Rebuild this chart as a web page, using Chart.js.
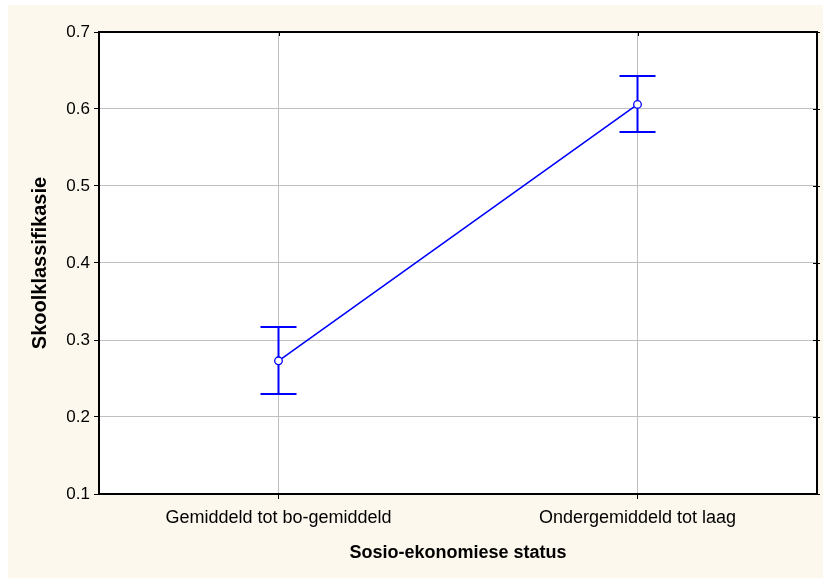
<!DOCTYPE html>
<html>
<head>
<meta charset="utf-8">
<script src="https://cdn.jsdelivr.net/npm/chart.js@4.4.1/dist/chart.umd.min.js"></script>
<style>
  html, body { margin: 0; padding: 0; background: #ffffff; }
  #frame {
    position: absolute; left: 8px; top: 5px;
    width: 815px; height: 573px;
    background: #fdf8ed;
  }
  #chart { display: block; }
</style>
</head>
<body>
<div id="frame">
  <canvas id="chart" width="815" height="573"></canvas>
</div>
<script>
// data
const categories = ['Gemiddeld tot bo-gemiddeld', 'Ondergemiddeld tot laag'];
const means = [0.273, 0.606];
const errLow = [0.230, 0.570];
const errHigh = [0.317, 0.643];
const yTicks = [0.1, 0.2, 0.3, 0.4, 0.5, 0.6, 0.7];

const BLUE = '#0000ff';

const plotBackground = {
  id: 'plotBackground',
  beforeDraw(chart) {
    const { ctx, chartArea: a } = chart;
    ctx.save();
    ctx.fillStyle = '#ffffff';
    ctx.fillRect(a.left, a.top, a.right - a.left, a.bottom - a.top);
    ctx.restore();
  }
};

const errorBars = {
  id: 'errorBars',
  beforeDatasetsDraw(chart) {
    const { ctx } = chart;
    const y = chart.scales.y;
    const meta = chart.getDatasetMeta(0);
    ctx.save();
    ctx.strokeStyle = BLUE;
    ctx.lineWidth = 2;
    meta.data.forEach((pt, i) => {
      const x = pt.x;
      const top = y.getPixelForValue(errHigh[i]);
      const bot = y.getPixelForValue(errLow[i]);
      ctx.beginPath();
      ctx.moveTo(x, top); ctx.lineTo(x, bot);
      ctx.moveTo(x - 18, top); ctx.lineTo(x + 18, top);
      ctx.moveTo(x - 18, bot); ctx.lineTo(x + 18, bot);
      ctx.stroke();
    });
    ctx.restore();
  }
};

const frameBorder = {
  id: 'frameBorder',
  afterDraw(chart) {
    const { ctx, chartArea: a } = chart;
    ctx.save();
    ctx.strokeStyle = '#000';
    ctx.lineWidth = 2;
    ctx.strokeRect(a.left, a.top, a.right - a.left, a.bottom - a.top);
    // mirrored small ticks on top and right
    ctx.lineWidth = 1;
    ctx.beginPath();
    chart.scales.x.ticks.forEach((t, i) => {
      const px = Math.round(chart.scales.x.getPixelForTick(i)) + 0.5;
      ctx.moveTo(px, a.top); ctx.lineTo(px, a.top + 4);
    });
    chart.scales.y.ticks.forEach((t, i) => {
      const py = Math.round(chart.scales.y.getPixelForTick(i)) + 0.5;
      ctx.moveTo(a.right - 4, py); ctx.lineTo(a.right + 3, py);
    });
    ctx.stroke();
    ctx.restore();
  }
};

new Chart(document.getElementById('chart'), {
  type: 'line',
  data: {
    labels: categories,
    datasets: [{
      data: means,
      borderColor: BLUE,
      borderWidth: 1.6,
      tension: 0,
      pointRadius: 3.8,
      pointBackgroundColor: '#ffffff',
      pointBorderColor: BLUE,
      pointBorderWidth: 1.3
    }]
  },
  options: {
    responsive: false,
    animation: false,
    layout: { padding: { left: 0, right: 6, top: 27, bottom: 0 } },
    plugins: { legend: { display: false }, tooltip: { enabled: false } },
    scales: {
      x: {
        offset: true,
        afterFit(scale) { scale.height = 84; },
        grid: { color: '#c0c0c0', lineWidth: 1, tickColor: '#000', tickLength: 5, offset: false },
        border: { display: false },
        ticks: {
          color: '#000', padding: 8,
          font: { family: 'Liberation Sans, Arial, sans-serif', size: 18 }
        },
        title: {
          display: true, text: 'Sosio-ekonomiese status', color: '#000',
          padding: { top: 0, bottom: 14 },
          font: { family: 'Liberation Sans, Arial, sans-serif', size: 18, weight: 'bold' }
        }
      },
      y: {
        min: 0.1, max: 0.7,
        afterFit(scale) { scale.width = 91; },
        afterBuildTicks(scale) { scale.ticks = yTicks.map(v => ({ value: v })); },
        grid: { color: '#c0c0c0', lineWidth: 1, tickColor: '#000', tickLength: 5 },
        border: { display: false },
        ticks: {
          color: '#000', padding: 4,
          callback: v => v.toFixed(1),
          font: { family: 'Liberation Sans, Arial, sans-serif', size: 17 }
        },
        title: {
          display: true, text: 'Skoolklassifikasie', color: '#000',
          padding: { top: 20, bottom: 0 },
          font: { family: 'Liberation Sans, Arial, sans-serif', size: 20, weight: 'bold' }
        }
      }
    }
  },
  plugins: [plotBackground, errorBars, frameBorder]
});
</script>
</body>
</html>
